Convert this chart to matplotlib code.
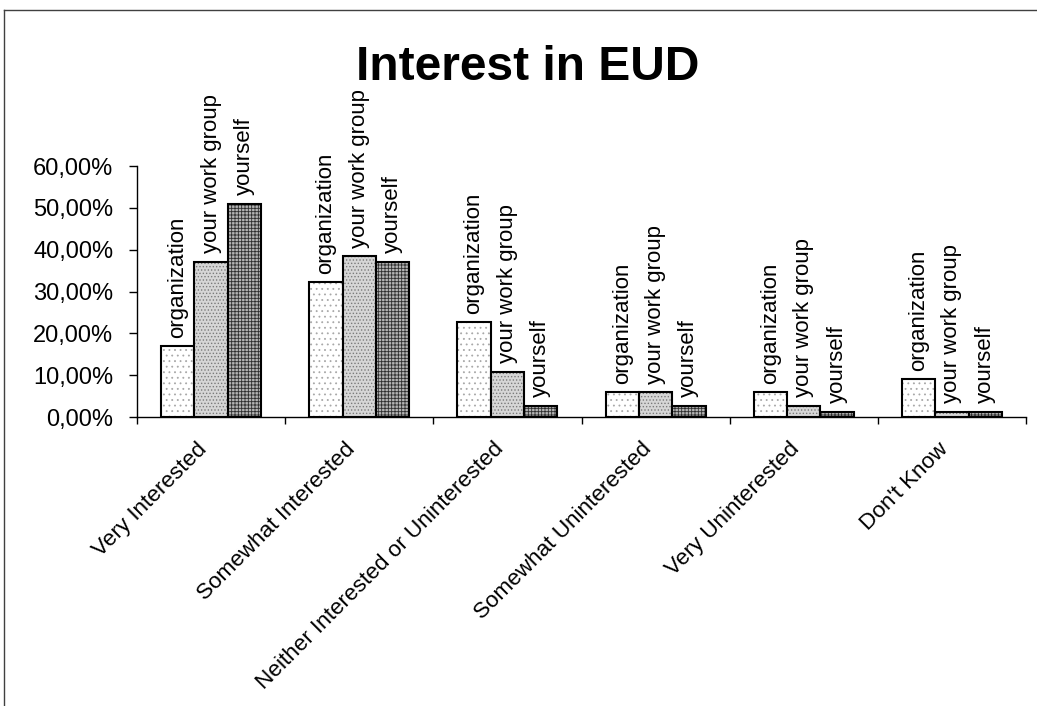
import matplotlib
matplotlib.use('Agg')
import matplotlib.pyplot as plt
import numpy as np
from matplotlib.lines import Line2D
from matplotlib.transforms import ScaledTranslation

# DADOS:
categorias = ['Very Interested', 'Somewhat Interested', 'Neither Interested or Uninterested',
              'Somewhat Uninterested', 'Very Uninterested', "Don't Know"]
series = ['organization', 'your work group', 'yourself']
organization = [17.0, 32.3, 22.7, 6.0, 6.0, 9.1]
your_work_group = [37.1, 38.5, 10.8, 6.0, 2.7, 1.3]
yourself = [51.0, 37.1, 2.7, 2.7, 1.3, 1.3]
y_ticks = [0, 10, 20, 30, 40, 50, 60]

plt.rcParams['font.family'] = ['Liberation Sans', 'DejaVu Sans']
plt.rcParams['hatch.linewidth'] = 0.6

fig = plt.figure(figsize=(10.37, 7.06), dpi=100)
ax = fig.add_axes([137 / 1037, 1 - 417 / 706, 889 / 1037, 251 / 706])

x = np.arange(len(categorias))
largura = 0.225
estilos = [('white', '#a8a8a8', '...'),
           ('#d6d6d6', '#7a7a7a', '.....'),
           ('#b4b4b4', '#2e2e2e', '+++++')]

for i, (nome, valores) in enumerate(zip(series, [organization, your_work_group, yourself])):
    pos = x + (i - 1) * largura
    fc, hc, h = estilos[i]
    ax.bar(pos, valores, largura, color=fc, edgecolor=hc, hatch=h, linewidth=0)
    ax.bar(pos, valores, largura, fill=False, edgecolor='black', linewidth=1.5)
    for p, v in zip(pos, valores):
        ax.annotate(nome, (p, v), xytext=(0, 6), textcoords='offset points',
                    rotation=90, ha='center', va='bottom', fontsize=16)

ax.set_xlim(-0.5, len(categorias) - 0.5)
ax.set_ylim(0, 60)
ax.set_yticks(y_ticks)
ax.set_yticklabels([f'{v:.2f}'.replace('.', ',') + '%' for v in y_ticks], fontsize=17)
ax.tick_params(axis='y', direction='out', length=6, width=1, pad=11)

ax.set_xticks(x)
ax.set_xticklabels(categorias, rotation=45, ha='right', va='center',
                   rotation_mode='anchor', fontsize=16.2)
ax.tick_params(axis='x', which='major', length=0, pad=21)
desloc = ScaledTranslation(-7 / 100, 0, fig.dpi_scale_trans)
for lbl in ax.get_xticklabels():
    lbl.set_transform(lbl.get_transform() + desloc)
ax.set_xticks(np.arange(-0.5, len(categorias), 1), minor=True)
ax.tick_params(axis='x', which='minor', direction='out', length=5, width=1)

ax.spines['top'].set_visible(False)
ax.spines['right'].set_visible(False)
for s in ['left', 'bottom']:
    ax.spines[s].set_linewidth(1)

fig.text(528 / 1037, 1 - 80 / 706, 'Interest in EUD', ha='center', va='baseline',
         fontsize=34.5, fontweight='bold')

# moldura
fig.add_artist(Line2D([4 / 1037, 4 / 1037], [0, 1 - 10 / 706], transform=fig.transFigure,
                      color='#404040', linewidth=1))
fig.add_artist(Line2D([4 / 1037, 1], [1 - 10 / 706, 1 - 10 / 706], transform=fig.transFigure,
                      color='#404040', linewidth=1))

plt.savefig('out.png', dpi=100)
plt.close()
